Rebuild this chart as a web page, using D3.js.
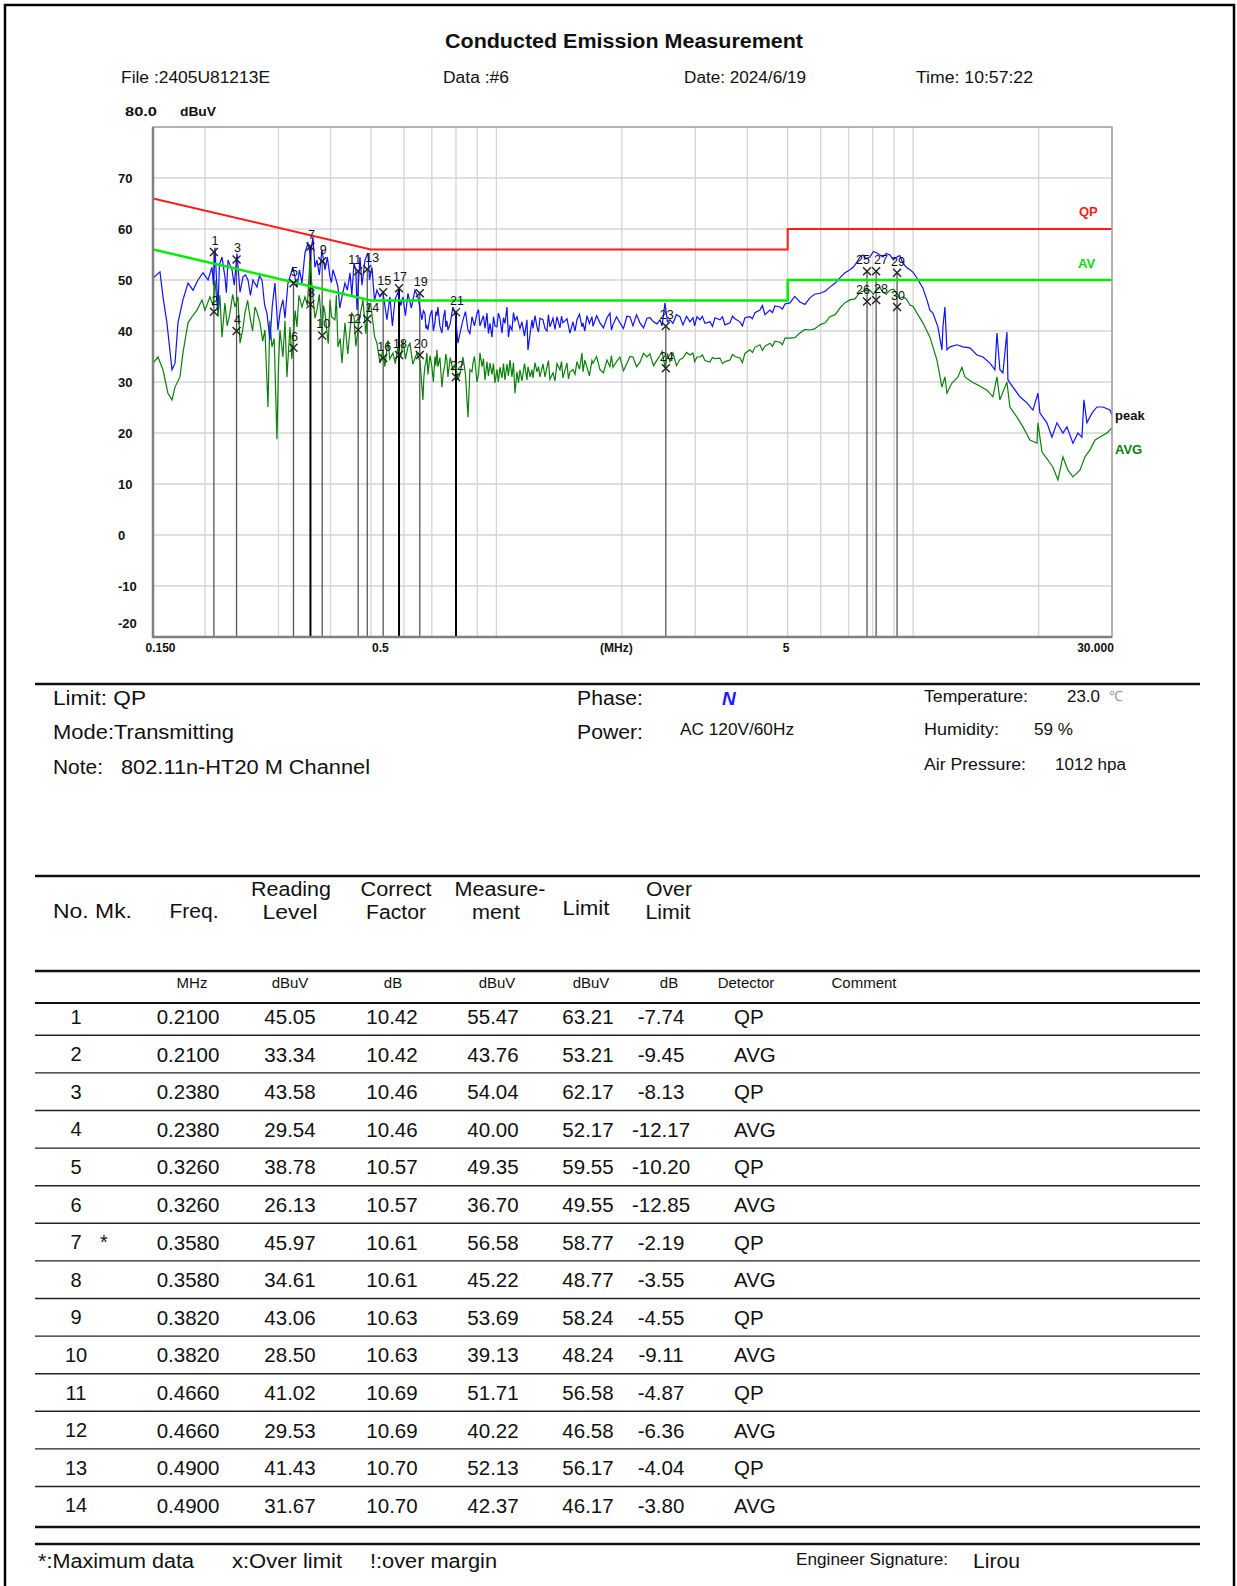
<!DOCTYPE html>
<html><head><meta charset="utf-8">
<script src="https://cdn.jsdelivr.net/npm/d3@7"></script>
<style>
body{margin:0;background:#fff}
svg text{font-family:"Liberation Sans",Arial,sans-serif;fill:#111}
</style>
</head><body>
<svg id="c" width="1237" height="1586"></svg>
<script>
// ---------------- DATA ----------------
const peakTrace = [
[0.150,50.4],[0.1559,51.6],[0.1585,46.7],[0.1620,41.6],[0.1666,32.4],[0.1694,33.7],[0.1722,41.6],[0.1770,46.1],
[0.1820,49.4],[0.1871,48.0],[0.1923,50.0],[0.1977,51.4],[0.2033,50.0],[0.2078,52.5],[0.2113,56.3],[0.2148,44.1],
[0.2196,54.5],[0.2232,50.6],[0.2270,53.9],[0.2321,52.0],[0.2386,55.2],[0.2426,47.6],[0.2466,50.6],[0.2535,50.0],
[0.2606,50.0],[0.2664,48.6],[0.2739,50.0],[0.2815,43.5],[0.2862,38.2],[0.2942,49.4],[0.2991,40.2],[0.3075,46.1],
[0.3162,49.4],[0.3250,52.5],[0.3323,48.6],[0.3416,49.4],[0.3473,55.3],[0.3531,57.2],[0.3630,58.4],[0.3711,53.9],
[0.3816,55.9],[0.3879,52.0],[0.3988,50.6],[0.4054,52.0],[0.4168,48.6],[0.4261,46.7],[0.4332,49.4],[0.4454,51.4],
[0.4553,53.3],[0.4629,44.1],[0.4706,54.5],[0.4838,53.9],[0.4919,55.3],[0.5029,52.5],[0.5169,48.0],[0.5255,46.7],
[0.5343,47.6],[0.5463,42.2],[0.5554,46.7],[0.5710,46.1],[0.5805,47.6],[0.5968,46.7],[0.6135,47.4],[0.6377,48.0],
[0.6484,46.7],[0.6627,42.2],[0.6738,43.5],[0.6813,41.0],[0.6851,40.2],[0.7004,44.1],[0.7121,41.6],[0.7200,43.0],
[0.7240,44.7],[0.7402,39.6],[0.7526,44.1],[0.7609,42.0],[0.7651,40.2],[0.7866,44.7],[0.8087,37.6],[0.8314,42.2],
[0.8548,40.2],[0.8738,42.8],[0.8983,43.5],[0.9134,41.0],[0.9235,42.2],[0.9389,40.5],[0.9493,43.5],[0.9652,41.5],
[0.9759,38.8],[0.9922,41.0],[1.0032,40.8],[1.0200,42.5],[1.0314,39.6],[1.0486,41.5],[1.0603,44.7],[1.0779,41.0],
[1.0899,40.2],[1.1082,42.0],[1.1205,42.8],[1.1390,40.5],[1.1517,41.8],[1.1840,42.2],[1.1906,36.3],[1.2172,42.2],
[1.2240,40.5],[1.2513,40.8],[1.2722,42.5],[1.2935,42.2],[1.3224,40.0],[1.3445,40.8],[1.3670,42.5],[1.3975,42.8],
[1.4209,40.6],[1.4446,41.6],[1.4769,42.4],[1.5016,39.6],[1.5267,41.8],[1.5608,42.2],[1.6046,40.8],[1.6135,41.6],
[1.6495,43.0],[1.6957,42.8],[1.7051,40.9],[1.7723,41.6],[1.8422,42.6],[1.8730,43.5],[1.9043,41.2],[1.9795,41.6],
[2.0576,42.9],[2.0920,42.8],[2.1270,41.0],[2.2109,41.6],[2.2979,42.5],[2.3363,42.6],[2.4285,41.4],[2.4692,42.2],
[2.5383,45.5],[2.6094,42.2],[2.6530,41.5],[2.7576,42.8],[2.8037,41.2],[2.9142,41.8],[2.9630,42.6],[3.0292,42.8],
[3.0799,42.2],[3.1655,41.5],[3.2545,41.8],[3.3456,42.6],[3.4393,42.2],[3.5353,41.2],[3.6344,41.6],[3.7360,42.4],
[3.8408,41.8],[3.9480,42.6],[4.0589,42.8],[4.1725,43.6],[4.2893,44.1],[4.4100,43.2],[4.5330,44.1],[4.6600,44.9],
[4.7903,44.7],[4.9240,45.3],[5.0620,45.5],[5.3495,45.7],[5.6532,46.5],[5.9743,47.4],[6.3134,48.6],[6.6718,50.4],
[7.0507,52.0],[7.3288,53.5],[7.5760,54.9],[7.8747,54.5],[8.1851,55.3],[8.4612,54.5],[8.7945,54.9],[9.1409,54.5],
[9.4493,53.3],[9.8238,52.0],[10.211,50.4],[10.555,48.4],[10.791,46.1],[10.971,44.1],[11.155,43.5],[11.467,40.8],
[11.723,36.3],[11.788,40.8],[11.919,44.7],[12.052,36.3],[12.253,36.9],[12.737,37.3],[13.165,36.9],[13.684,36.7],
[14.224,35.3],[14.703,34.9],[15.283,33.7],[15.711,32.4],[15.886,39.6],[16.151,32.4],[16.421,31.8],[16.788,39.8],
[16.881,30.4],[17.354,29.0],[18.039,27.1],[18.750,25.9],[19.383,24.5],[19.926,27.8],[20.147,23.9],[20.941,22.0],
[21.527,19.2],[22.130,22.0],[22.876,20.0],[23.387,21.2],[24.176,18.0],[24.853,20.0],[25.408,19.2],[25.690,26.5],
[26.119,22.0],[26.851,23.9],[27.603,25.1],[28.535,25.1],[29.660,24.5],[30.000,23.5]
];
// extra readings of the peak trace's fine ripple
const peakRipple = [
[0.2095,49.0],[0.2165,53.0],[0.2250,47.5],[0.2350,49.0],[0.2500,51.0],[0.2570,47.0],[0.2700,50.8],[0.2780,45.0],
[0.2900,45.0],[0.3030,44.0],[0.3110,42.5],[0.3370,52.0],[0.3580,55.0],[0.3670,52.5],[0.3760,51.0],[0.3930,54.5],
[0.4020,49.5],[0.4120,50.2],[0.4210,44.5],[0.4390,48.0],[0.4500,47.0],[0.4600,52.0],[0.4760,49.0],[0.4960,50.0],
[0.5100,46.0],[0.5400,45.0],[0.5630,41.0],[0.5900,45.0],[0.6050,43.0],[0.6250,44.5],
[0.6680,44.0],[0.6775,40.5],[0.6930,43.0],[0.7060,40.0],[0.7160,43.8],[0.7320,41.0],[0.7460,42.5],[0.7560,40.8],
[0.7750,41.5],[0.7980,43.0],[0.8200,40.0],[0.8430,43.8],[0.8640,39.5],[0.8860,41.0],[0.9060,44.2],[0.9310,43.0],
[0.9570,39.5],[0.9840,42.8],[1.0110,43.5],[1.0400,42.6],[1.0690,38.8],[1.0990,43.6],[1.1300,41.6],[1.1680,39.0],
[1.2050,39.5],[1.2380,43.0],[1.2620,39.8],[1.3080,40.5],[1.3330,43.2],[1.3820,40.3],[1.4330,42.9],[1.4890,41.0],
[1.5440,40.0],[1.5830,43.3],[1.6300,40.0],[1.6720,41.5],[1.7400,43.0],[1.8070,40.6],[1.8880,40.2],[1.9420,42.8],
[2.0180,40.5],[2.1690,43.2],[2.2540,40.6],[2.3820,41.8],[2.4980,41.0],[2.5730,41.8],[2.7050,43.2],[2.8590,42.9],
[2.9900,41.0],[3.1200,42.9],[3.3000,40.9],[3.4870,42.8],[3.6850,42.9],[3.8940,41.0],[4.1150,42.4],[4.3490,45.0],
[4.5960,43.6],[4.8570,44.3],
[5.20,46.8],[5.50,45.2],[5.80,47.2],[6.15,47.8],[6.50,49.4],[6.85,51.4],[7.20,52.6],[7.45,54.5],[7.72,54.2],
[8.03,55.6],[8.32,54.9],[8.62,55.2],[8.97,54.0],[9.29,54.8],[9.63,52.5],[10.0,51.5]
];
const avgTrace = [
[0.150,33.7],[0.1542,34.9],[0.1585,32.4],[0.1629,27.8],[0.1666,26.5],[0.1694,29.0],[0.1741,31.0],[0.1770,35.7],
[0.1820,41.6],[0.1861,42.8],[0.1913,44.1],[0.1966,46.1],[0.1999,44.1],[0.2055,46.7],[0.2113,50.0],[0.2148,42.8],
[0.2196,38.8],[0.2232,45.5],[0.2295,43.5],[0.2359,44.7],[0.2399,46.7],[0.2426,37.6],[0.2493,43.5],[0.2563,42.8],
[0.2635,44.7],[0.2709,41.6],[0.2784,40.2],[0.2831,25.1],[0.2894,36.9],[0.2975,18.8],[0.3025,40.2],[0.3075,34.9],
[0.3144,31.0],[0.3197,40.8],[0.3250,37.6],[0.3323,40.8],[0.3416,44.7],[0.3473,46.7],[0.3570,53.9],[0.3630,46.7],
[0.3711,44.1],[0.3816,39.6],[0.3879,43.5],[0.3988,46.1],[0.4099,42.2],[0.4168,36.9],[0.4261,33.7],[0.4332,41.6],
[0.4454,40.2],[0.4553,42.8],[0.4655,40.2],[0.4785,46.1],[0.4919,44.1],[0.5057,41.6],[0.5169,37.6],[0.5255,33.7],
[0.5343,36.3],[0.5493,38.2],[0.5647,35.7],[0.5805,36.9],[0.5968,38.2],[0.6135,36.9],[0.6203,37.6],[0.6448,35.7],
[0.6664,26.5],[0.6738,33.0],[0.6813,35.7],[0.6851,31.5],[0.7004,32.9],[0.7121,35.0],[0.7200,36.3],[0.7240,33.0],
[0.7402,29.0],[0.7526,33.5],[0.7609,34.3],[0.7651,31.0],[0.7866,32.4],[0.8087,30.4],[0.8314,34.9],[0.8548,23.1],
[0.8738,32.0],[0.8787,33.7],[0.8983,30.0],[0.9134,35.7],[0.9235,33.0],[0.9389,30.4],[0.9493,34.0],[0.9652,33.7],
[0.9759,31.5],[0.9922,29.8],[1.0032,32.5],[1.0200,32.9],[1.0314,30.8],[1.0486,30.4],[1.0603,33.5],[1.0779,34.3],
[1.0899,31.0],[1.1082,27.8],[1.1205,32.0],[1.1390,32.4],[1.1517,30.2],[1.1840,30.4],[1.1906,33.0],[1.2172,32.4],
[1.2240,30.8],[1.2513,32.0],[1.2722,31.0],[1.2935,33.5],[1.3224,32.9],[1.3445,30.5],[1.3670,31.8],[1.3975,33.6],
[1.4209,32.4],[1.4446,30.8],[1.4769,33.7],[1.5016,32.0],[1.5267,32.4],[1.5608,34.0],[1.6046,35.7],[1.6135,32.0],
[1.6495,32.9],[1.6957,34.2],[1.7051,33.7],[1.7723,32.4],[1.8422,34.3],[1.8730,33.0],[1.9043,32.9],[1.9795,34.9],
[2.0576,33.7],[2.0920,35.0],[2.1270,34.9],[2.2109,33.9],[2.2979,34.9],[2.3363,35.5],[2.4285,34.3],[2.4692,35.2],
[2.5383,32.9],[2.6094,34.0],[2.6530,35.7],[2.7576,34.4],[2.8037,34.7],[2.9142,35.3],[2.9630,35.7],[3.0292,34.9],
[3.0799,34.9],[3.1655,34.2],[3.2545,33.9],[3.3456,34.6],[3.4393,34.7],[3.5353,34.0],[3.6344,34.3],[3.7360,35.0],
[3.8408,34.7],[3.9480,35.6],[4.0589,36.3],[4.1725,36.8],[4.2893,37.3],[4.4100,37.0],[4.5330,37.6],[4.6600,38.0],
[4.7903,37.8],[4.9240,38.6],[5.0620,38.6],[5.3495,39.6],[5.6532,40.2],[5.9743,41.2],[6.3134,42.8],[6.6718,44.5],
[7.0507,46.1],[7.4514,47.6],[7.8747,48.0],[8.1851,48.4],[8.4612,47.6],[8.7945,48.0],[9.1409,47.4],[9.4493,46.7],
[9.8238,45.1],[10.211,43.5],[10.555,41.6],[10.971,38.8],[11.404,34.3],[11.723,29.0],[11.919,31.0],[12.052,27.8],
[12.390,29.8],[12.807,31.0],[13.092,32.9],[13.311,31.0],[13.836,30.0],[14.303,29.4],[15.032,28.4],[15.539,27.1],
[15.886,31.0],[16.151,26.5],[16.788,30.0],[17.068,25.1],[17.742,23.1],[18.340,21.2],[19.064,18.6],[19.816,18.0],
[19.926,22.0],[20.371,16.3],[21.057,14.7],[21.647,13.3],[22.253,10.8],[22.876,15.3],[23.517,12.7],[24.176,11.4],
[25.129,12.7],[25.832,15.3],[26.556,16.7],[27.300,18.6],[28.065,19.2],[29.172,20.0],[30.000,21.0]
];
// extra readings of the average trace's fine ripple
const avgRipple = [
[0.2090,45.0],[0.2170,47.0],[0.2260,41.0],[0.2330,47.2],[0.2460,40.0],[0.2530,46.0],[0.2600,40.0],[0.2670,43.5],
[0.2750,38.0],[0.2860,42.0],[0.2930,38.5],[0.3000,33.0],[0.3110,42.0],[0.3230,34.5],[0.3290,44.0],[0.3360,47.0],
[0.3520,45.0],[0.3600,50.0],[0.3670,42.5],[0.3760,47.2],[0.3850,45.0],[0.3950,37.5],[0.4020,42.8],[0.4130,47.0],
[0.4220,38.5],[0.4400,35.5],[0.4500,43.5],[0.4600,37.0],[0.4720,43.5],[0.4860,39.5],[0.4990,45.5],[0.5100,39.0],
[0.5300,35.0],[0.5400,33.0],[0.5550,34.5],[0.5720,33.6],[0.5900,35.0],[0.6050,34.5],[0.6300,33.5],[0.6560,34.0],
[0.6700,31.0],[0.6775,33.8],[0.6930,35.2],[0.7060,30.0],[0.7160,33.2],[0.7320,34.8],[0.7460,31.8],[0.7560,35.5],
[0.7750,34.8],[0.7980,33.5],[0.8200,32.0],[0.8430,31.5],[0.8640,32.4],[0.8860,35.0],[0.9060,31.5],[0.9310,34.6],
[0.9570,31.2],[0.9840,33.6],[1.0110,30.0],[1.0400,33.6],[1.0690,31.2],[1.0990,33.8],[1.1300,29.8],[1.1680,33.6],
[1.2050,31.0],[1.2380,33.8],[1.2620,33.0],[1.3080,31.0],[1.3330,34.2],[1.3820,30.2],[1.4330,34.0],[1.4890,30.6],
[1.5440,31.5],[1.5830,32.5],[1.6300,34.3],[1.6720,31.2],[1.7400,35.0],[1.8070,31.8],[1.8880,35.2],[1.9420,34.0],
[2.0180,32.2],[2.1690,33.0],[2.2540,35.6],[2.3820,33.2],[2.4980,36.0],[2.5730,35.4],[2.7050,33.2],[2.8590,35.8],
[2.9900,34.0],[3.1200,35.3],[3.3000,34.8],[3.4870,33.6],[3.6850,35.4],[3.8940,33.8],[4.1150,35.8],[4.3490,36.2],
[4.5960,37.0],[4.8570,37.3],
[5.20,38.7],[5.50,40.3],[5.80,40.4],[6.15,41.6],[6.50,43.2],[6.85,45.5],[7.25,46.3],[7.65,47.9],[8.03,47.2],
[8.32,48.6],[8.62,47.2],[8.97,48.2],[9.29,46.4],[9.63,46.3],[10.0,44.8]
];
const qpLimit = [[0.15,66],[0.5,56],[5,56],[5,60],[30,60]];
const avLimit = [[0.15,56],[0.5,46],[5,46],[5,50],[30,50]];

const markerFreq = [0.21,0.238,0.326,0.358,0.382,0.466,0.49,0.535,0.584,0.655,0.80,2.55,7.75,8.15,9.15];
const markerQP   = [55.47,54.04,49.35,56.58,53.69,51.71,52.13,47.6,48.4,47.4,43.7,41.0,51.7,51.7,51.4];
const markerAVG  = [43.76,40.00,36.70,45.22,39.13,40.22,42.37,34.7,35.3,35.3,31.0,32.7,45.8,46.1,44.7];
const markerBold = [false,false,false,true,false,false,false,false,true,false,true,false,false,false,false];

const yTickValues = [70,60,50,40,30,20,10,0,-10,-20];
const xTickValues = [0.15,0.5,2,5,30];
const xTickLabels = ["0.150","0.5","(MHz)","5","30.000"];
const gridFreqs = [0.2,0.3,0.4,0.5,0.6,0.7,0.8,0.9,1,2,3,4,5,6,7,8,9,10,20];

const colNo      = ["1","2","3","4","5","6","7","8","9","10","11","12","13","14"];
const colMk      = ["","","","","","","*","","","","","","",""];
const colFreq    = ["0.2100","0.2100","0.2380","0.2380","0.3260","0.3260","0.3580","0.3580","0.3820","0.3820","0.4660","0.4660","0.4900","0.4900"];
const colReading = ["45.05","33.34","43.58","29.54","38.78","26.13","45.97","34.61","43.06","28.50","41.02","29.53","41.43","31.67"];
const colCorrect = ["10.42","10.42","10.46","10.46","10.57","10.57","10.61","10.61","10.63","10.63","10.69","10.69","10.70","10.70"];
const colMeasure = ["55.47","43.76","54.04","40.00","49.35","36.70","56.58","45.22","53.69","39.13","51.71","40.22","52.13","42.37"];
const colLimit   = ["63.21","53.21","62.17","52.17","59.55","49.55","58.77","48.77","58.24","48.24","56.58","46.58","56.17","46.17"];
const colOver    = ["-7.74","-9.45","-8.13","-12.17","-10.20","-12.85","-2.19","-3.55","-4.55","-9.11","-4.87","-6.36","-4.04","-3.80"];
const colDet     = ["QP","AVG","QP","AVG","QP","AVG","QP","AVG","QP","AVG","QP","AVG","QP","AVG"];

// ---------------- DRAW ----------------
const svg = d3.select("#c");
function T(x, y, s, o = {}) {
  const t = svg.append("text").attr("x", x).attr("y", y).text(s)
    .attr("dominant-baseline", "central")
    .attr("font-size", o.size || 20)
    .attr("text-anchor", o.anchor || "start");
  if (o.bold) t.attr("font-weight", "bold");
  if (o.italic) t.attr("font-style", "italic");
  if (o.fill) t.style("fill", o.fill);
  if (o.len) t.attr("textLength", o.len).attr("lengthAdjust", "spacingAndGlyphs");
  return t;
}
function HL(x1, x2, y, w, c) {
  svg.append("line").attr("x1", x1).attr("x2", x2).attr("y1", y).attr("y2", y)
    .attr("stroke", c || "#111").attr("stroke-width", w);
}

// outer frame
svg.append("rect").attr("x", 5).attr("y", 5).attr("width", 1229).attr("height", 1620)
  .attr("fill", "none").attr("stroke", "#000").attr("stroke-width", 2.5);

// header
T(624, 41, "Conducted Emission Measurement", {size: 20, bold: true, anchor: "middle", len: 358});
T(121, 77, "File :2405U81213E", {size: 16, len: 149});
T(443, 77, "Data :#6", {size: 16, len: 66});
T(684, 77, "Date: 2024/6/19", {size: 16, len: 122});
T(916, 77, "Time: 10:57:22", {size: 16, len: 117});
T(125, 112, "80.0", {size: 12, bold: true, len: 32});
T(180, 112, "dBuV", {size: 12, bold: true, len: 36});

// plot
const L = 153, R = 1112, TOP = 127, BOT = 637;
const x = d3.scaleLog().domain([0.15, 30]).range([L, R]);
const y = d3.scaleLinear().domain([-20, 80]).range([BOT, TOP]);

const grid = svg.append("g");
gridFreqs.forEach(f => grid.append("line").attr("x1", x(f)).attr("x2", x(f)).attr("y1", TOP).attr("y2", BOT)
  .attr("stroke", "#d4d4d4").attr("stroke-width", 1.3));
[70,60,50,40,30,20,10,0,-10].forEach(v => grid.append("line").attr("x1", L).attr("x2", R).attr("y1", y(v)).attr("y2", y(v))
  .attr("stroke", "#d4d4d4").attr("stroke-width", 1.3));

// axes (labels)
const yAx = svg.append("g").attr("transform", `translate(${L},0)`)
  .call(d3.axisLeft(y).tickValues(yTickValues).tickSize(0).tickFormat(d => String(d)));
yAx.select(".domain").remove();
yAx.selectAll("text").attr("x", 118 - L).attr("text-anchor", "start")
  .attr("font-family", "Liberation Sans, Arial, sans-serif").attr("font-size", 13).attr("font-weight", "bold")
  .style("fill", "#111")
  .attr("dy", d => d === -20 ? "-0.75em" : "0.32em");

const xAx = svg.append("g").attr("transform", `translate(0,${BOT})`)
  .call(d3.axisBottom(x).tickValues(xTickValues).tickSize(0).tickFormat((d, i) => xTickLabels[i]));
xAx.select(".domain").remove();
const xOff = [7, 9, -6, -2, -17];
xAx.selectAll("text").attr("font-family", "Liberation Sans, Arial, sans-serif").attr("font-size", 12)
  .attr("font-weight", "bold").style("fill", "#111")
  .attr("dx", (d, i) => xOff[i]).attr("y", 6);

// clip
svg.append("clipPath").attr("id", "pc").append("rect").attr("x", L).attr("y", TOP).attr("width", R - L).attr("height", BOT - TOP);
const plot = svg.append("g").attr("clip-path", "url(#pc)");
const line = d3.line().x(d => x(d[0])).y(d => y(d[1]));
const byFreq = (a, b) => a[0] - b[0];
const peakAll = peakTrace.concat(peakRipple).sort(byFreq);
const avgAll = avgTrace.concat(avgRipple).sort(byFreq);

// marker vertical lines
markerFreq.forEach((f, i) => {
  plot.append("line").attr("x1", x(f)).attr("x2", x(f)).attr("y1", y(markerQP[i])).attr("y2", BOT)
    .attr("stroke", markerBold[i] ? "#000" : "#555").attr("stroke-width", markerBold[i] ? 2 : 1.3);
});

plot.append("path").datum(avgAll).attr("d", line).attr("fill", "none").attr("stroke", "#0a800a").attr("stroke-width", 1.2);
plot.append("path").datum(peakAll).attr("d", line).attr("fill", "none").attr("stroke", "#1010ff").attr("stroke-width", 1.2);
plot.append("path").datum(avLimit).attr("d", line).attr("fill", "none").attr("stroke", "#00ee00").attr("stroke-width", 2.5);
plot.append("path").datum(qpLimit).attr("d", line).attr("fill", "none").attr("stroke", "#ff1a1a").attr("stroke-width", 2);

// markers
function cross(cx, cy) {
  svg.append("path").attr("d", `M${cx-4},${cy-4}L${cx+4},${cy+4}M${cx+4},${cy-4}L${cx-4},${cy+4}`)
    .attr("stroke", "#222").attr("stroke-width", 1.4).attr("fill", "none");
}
const labelDx = [0,0,0,0,0,-4,4,0,0,0,0,0,-5,5,0];
const labelAnchor = ["middle","middle","middle","middle","middle","end","start","middle","middle","middle","middle","middle","end","start","middle"];
markerFreq.forEach((f, i) => {
  const cx = x(f);
  const q = y(markerQP[i]), a = y(markerAVG[i]);
  cross(cx, q); cross(cx, a);
  const dx = labelAnchor[i] === "end" ? 3 : labelAnchor[i] === "start" ? -2 : 1;
  T(cx + dx, q - 11, String(2 * i + 1), {size: 12.5, anchor: labelAnchor[i]});
  T(cx + dx, a - 11, String(2 * i + 2), {size: 12.5, anchor: labelAnchor[i]});
});

// plot frame
svg.append("rect").attr("x", L).attr("y", TOP).attr("width", R - L).attr("height", BOT - TOP)
  .attr("fill", "none").attr("stroke", "#9a9a9a").attr("stroke-width", 1.5);
svg.append("path").attr("d", `M${L},${TOP}V${BOT}H${R}`).attr("fill", "none").attr("stroke", "#808080").attr("stroke-width", 2.5);

// legend labels
T(1079, 211, "QP", {size: 13, bold: true, fill: "#ff1a1a"});
T(1078, 263, "AV", {size: 13, bold: true, fill: "#00dd00"});
T(1115, 415, "peak", {size: 13, bold: true});
T(1115, 449, "AVG", {size: 13, bold: true, fill: "#0a800a"});

// info block
HL(35, 1200, 684, 2.5);
T(53, 698, "Limit: QP", {size: 20, len: 93});
T(53, 732, "Mode:Transmitting", {size: 20, len: 181});
T(53, 767, "Note:", {size: 20, len: 50});
T(121, 767, "802.11n-HT20 M Channel", {size: 20, len: 249});
T(577, 698, "Phase:", {size: 20, len: 66});
T(722, 698, "N", {size: 19, bold: true, italic: true, fill: "#1a1aff"});
T(577, 732, "Power:", {size: 20, len: 66});
T(680, 729, "AC 120V/60Hz", {size: 16, len: 114});
T(924, 696, "Temperature:", {size: 16, len: 104});
T(1067, 696, "23.0", {size: 16, len: 33});
T(1109, 696, "\u2103", {size: 14, fill: "#999"});
T(924, 729, "Humidity:", {size: 16, len: 75});
T(1034, 729, "59 %", {size: 16, len: 39});
T(924, 764, "Air Pressure:", {size: 16, len: 102});
T(1055, 764, "1012 hpa", {size: 16, len: 71});

// table
HL(35, 1200, 876, 2.5);
T(53, 911, "No.  Mk.", {size: 20, len: 79});
T(194, 911, "Freq.", {size: 20, anchor: "middle", len: 49});
T(291, 889, "Reading", {size: 20, anchor: "middle", len: 80});
T(290, 912, "Level", {size: 20, anchor: "middle", len: 55});
T(396, 889, "Correct", {size: 20, anchor: "middle", len: 71});
T(396, 912, "Factor", {size: 20, anchor: "middle", len: 60});
T(500, 889, "Measure-", {size: 20, anchor: "middle", len: 91});
T(496, 912, "ment", {size: 20, anchor: "middle", len: 48});
T(586, 908, "Limit", {size: 20, anchor: "middle", len: 47});
T(669, 889, "Over", {size: 20, anchor: "middle", len: 46});
T(668, 912, "Limit", {size: 20, anchor: "middle", len: 45});
HL(35, 1200, 971, 2.5);
const unitX = [192, 290, 393, 497, 591, 669, 746, 864];
const unitL = ["MHz", "dBuV", "dB", "dBuV", "dBuV", "dB", "Detector", "Comment"];
unitL.forEach((u, i) => T(unitX[i], 982, u, {size: 15, anchor: "middle"}));
HL(35, 1200, 1003, 2.2);

const rowY0 = 1016.5, rowH = 37.6;
colNo.forEach((n, i) => {
  const ry = rowY0 + i * rowH;
  T(76, ry, n, {size: 20, anchor: "middle"});
  if (colMk[i]) T(104, ry, colMk[i], {size: 20, anchor: "middle"});
  T(188, ry, colFreq[i], {size: 20.5, anchor: "middle"});
  T(290, ry, colReading[i], {size: 20.5, anchor: "middle"});
  T(392, ry, colCorrect[i], {size: 20.5, anchor: "middle"});
  T(493, ry, colMeasure[i], {size: 20.5, anchor: "middle"});
  T(588, ry, colLimit[i], {size: 20.5, anchor: "middle"});
  T(661, ry, colOver[i], {size: 20.5, anchor: "middle"});
  T(734, ry, colDet[i], {size: 20.5});
  if (i < colNo.length - 1) HL(35, 1200, ry + 18.8, 1.4, "#222");
});
HL(35, 1200, 1527, 2.5);
HL(35, 1200, 1544, 2.5);

T(38, 1561, "*:Maximum data", {size: 20, len: 156});
T(232, 1561, "x:Over limit", {size: 20, len: 110});
T(370, 1561, "!:over margin", {size: 20, len: 127});
T(796, 1559, "Engineer Signature:", {size: 16, len: 152});
T(973, 1561, "Lirou", {size: 20, len: 47});
</script>
</body></html>
